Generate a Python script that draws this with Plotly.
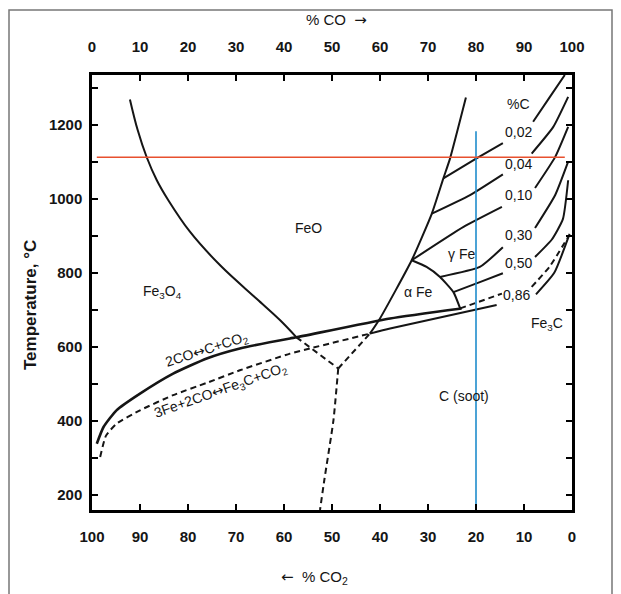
import plotly.graph_objects as go

# ---------------- data (x = % CO on top axis, y = temperature °C) ----------------
co_ticks = [0, 10, 20, 30, 40, 50, 60, 70, 80, 90, 100]
co_tick_labels = ["0", "10", "20", "30", "40", "50", "60", "70", "80", "90", "100"]
co2_tick_labels = ["100", "90", "80", "70", "60", "50", "40", "30", "20", "10", "0"]
t_ticks = [200, 400, 600, 800, 1000, 1200]

# Fe3O4 / FeO boundary
feo_fe3o4_co = [7.9, 9.5, 11.4, 13.5, 15.9, 20.4, 26.8, 34.3, 39.2, 42.6]
feo_fe3o4_t = [1268, 1186, 1112, 1050, 996, 911, 819, 730, 672, 626]
feo_fe3o4_dash_co = [42.6, 51.3]
feo_fe3o4_dash_t = [626, 542]
# Fe3O4 / Fe boundary (dashed, below the triple point)
fe3o4_fe_co = [51.3, 50.3, 48.4, 47.5]
fe3o4_fe_t = [542, 402, 241, 160]
# FeO / Fe boundary
fe_feo_dash_co = [51.3, 57.9]
fe_feo_dash_t = [542, 636]
fe_feo_co = [57.9, 60.0, 66.6, 70.8, 73.2, 74.6, 77.9]
fe_feo_t = [636, 677, 834, 960, 1055, 1109, 1273]
# Boudouard equilibrium 2CO <-> C + CO2
boud_co = [1.0, 2.4, 5.1, 10.0, 16.9, 23.9, 30.8, 41.25, 42.6, 62.1, 77.0]
boud_t = [339, 384, 429, 474, 528, 569, 596, 623, 626, 677, 704]
# 3Fe + 2CO <-> Fe3C + CO2
fe3c_dash_co = [1.7, 2.9, 5.1, 10.0, 16.9, 23.9, 30.8, 41.25, 45.4, 57.9]
fe3c_dash_t = [303, 360, 393, 429, 470, 503, 537, 582, 596, 636]
fe3c_co = [57.9, 62.1, 84.3]
fe3c_t = [636, 650, 713]
fe3c_right_co = [92.5, 96.3, 99.5]
fe3c_right_t = [742, 800, 905]
# alpha / gamma boundary
ag_co = [66.6, 69.7, 72.5, 75.3, 76.7]
ag_t = [834, 816, 789, 748, 704]

# iso-carbon lines (% C in iron): left part up to the label, right part after the label
c_labels = ["0,02", "0,04", "0,10", "0,30", "0,50", "0,86"]
c_label_co = [88.75, 88.75, 88.75, 88.75, 88.75, 88.5]
c_label_t = [1181, 1093, 1010, 902, 826, 740]
iso_left_co = [[73.2, 80.1, 85.6], [70.8, 78.75, 85.6], [66.6, 77.4, 85.4],
               [72.5, 80.8, 85.6], [75.3, 80.8, 85.6], [76.7, 85.4]]
iso_left_t = [[1055, 1109, 1150], [960, 1010, 1066], [834, 924, 978],
              [789, 816, 869], [748, 775, 799], [704, 744]]
iso_right_co = [[91.9, 95.4, 98.5], [91.6, 96.1, 99.2], [92.3, 96.5, 99.2],
                [92.3, 96.5, 99.2], [92.3, 95.8, 98.1, 99.2], [91.6, 95.4, 99.2]]
iso_right_t = [[1208, 1275, 1334], [1122, 1194, 1275], [1029, 1113, 1194],
               [921, 1010, 1100], [843, 890, 945, 1050], [762, 818, 897]]

# marker lines
red_t = 1112
red_co = [1.0, 98.5]
blue_co = 80
blue_t = [160, 1182]

FONT = "Liberation Sans, Arial, sans-serif"
INK = "#151515"
ARW = '<span style="font-family:DejaVu Sans">{}</span>'

fig = go.Figure()

def line(x, y, dash="solid", width=2.0, color=INK, xaxis="x", smooth=0.5):
    fig.add_trace(go.Scatter(x=x, y=y, mode="lines", xaxis=xaxis,
                             line=dict(color=color, width=width, dash=dash,
                                       shape="spline" if smooth else "linear",
                                       smoothing=smooth if smooth else 0),
                             hoverinfo="skip", showlegend=False))

DASH = "6px,4px"
line(feo_fe3o4_co, feo_fe3o4_t, smooth=1.0)
line(feo_fe3o4_dash_co, feo_fe3o4_dash_t, dash=DASH)
line(fe3o4_fe_co, fe3o4_fe_t, dash=DASH)
line(fe_feo_dash_co, fe_feo_dash_t, dash=DASH)
line(fe_feo_co, fe_feo_t)
line(boud_co, boud_t, width=2.6)
line(fe3c_dash_co, fe3c_dash_t, dash=DASH)
line(fe3c_co, fe3c_t)
line(fe3c_right_co, fe3c_right_t)
line(ag_co, ag_t)
for i in range(len(c_labels)):
    d = DASH if c_labels[i] == "0,86" else "solid"
    line(iso_left_co[i], iso_left_t[i], dash=d)
    line(iso_right_co[i], iso_right_t[i], dash=d)

line(red_co, [red_t, red_t], color="#e8502e", width=1.6, xaxis="x2", smooth=0)
line([blue_co, blue_co], blue_t, color="#1f8ccc", width=1.6, smooth=0)

def label(x, y, text, size=14, angle=0):
    fig.add_annotation(x=x, y=y, text=text, showarrow=False, textangle=angle,
                       xanchor="center", yanchor="middle",
                       font=dict(family=FONT, size=size, color=INK))

label(45.2, 920, "FeO")
label(14.6, 748, "Fe<sub>3</sub>O<sub>4</sub>")
label(77.0, 852, "γ Fe")
label(68.0, 749, "α Fe")
label(88.8, 1257, "%C")
for i in range(len(c_labels)):
    label(c_label_co[i], c_label_t[i], c_labels[i])
label(94.7, 663, "Fe<sub>3</sub>C")
label(77.4, 467, "C (soot)")
label(23.9, 592, "2CO" + ARW.format("↔") + "C+CO<sub>2</sub>", size=14, angle=-18)
label(26.7, 480, "3Fe+2CO" + ARW.format("↔") + "Fe<sub>3</sub>C+CO<sub>2</sub>", size=14, angle=-19.5)

# axis titles
def ptitle(px, py, text, size=15, angle=0):
    fig.add_annotation(xref="paper", yref="paper", x=(px - 92) / 480, y=(510 - py) / 435,
                       text=text, showarrow=False, textangle=angle,
                       xanchor="center", yanchor="middle",
                       font=dict(family=FONT, size=size, color=INK))

ptitle(336, 20, "% CO  " + ARW.format("→"))
ptitle(314, 577, ARW.format("←") + "  % CO<sub>2</sub>")
ptitle(30, 305, "<b>Temperature, °C</b>", size=17, angle=-90)

# outer scan frame
fig.add_shape(type="rect", xref="paper", yref="paper",
              x0=(9 - 92) / 480, x1=(612 - 92) / 480, y0=(510 - 640) / 435, y1=(510 - 10) / 435,
              line=dict(color="#777777", width=1.5))

tickfont = dict(family=FONT, size=15, color=INK, weight="bold")
# the page body adds an 8 px offset, so the figure is 8 px smaller than the window
fig.update_layout(
    width=613, height=586,
    margin=dict(l=84, r=49, t=67, b=84, autoexpand=False),
    plot_bgcolor="white", paper_bgcolor="white",
    showlegend=False,
    xaxis=dict(range=[0, 100], side="top", tickvals=co_ticks, ticktext=co_tick_labels,
               ticks="inside", ticklen=6, tickwidth=1.5, tickcolor="black",
               showline=True, linewidth=2.5, linecolor="black", mirror="ticks",
               showgrid=False, zeroline=False, tickfont=tickfont, ticklabelstandoff=14,
               automargin=False),
    xaxis2=dict(range=[0, 100], overlaying="x", side="bottom", tickvals=co_ticks,
                ticktext=co2_tick_labels, ticks="", showline=False, showgrid=False,
                zeroline=False, tickfont=tickfont, ticklabelstandoff=16, automargin=False),
    yaxis=dict(range=[160, 1334], tickvals=t_ticks, ticks="inside", ticklen=6, tickwidth=1.5,
               tickcolor="black", showline=True, linewidth=2.5, linecolor="black",
               mirror="ticks", showgrid=False, zeroline=False, tickfont=tickfont,
               minor=dict(dtick=100, ticks="inside", ticklen=6, tickwidth=1.5, tickcolor="black"),
               ticklabelstandoff=4, automargin=False),
)

fig.write_html("out.html")
